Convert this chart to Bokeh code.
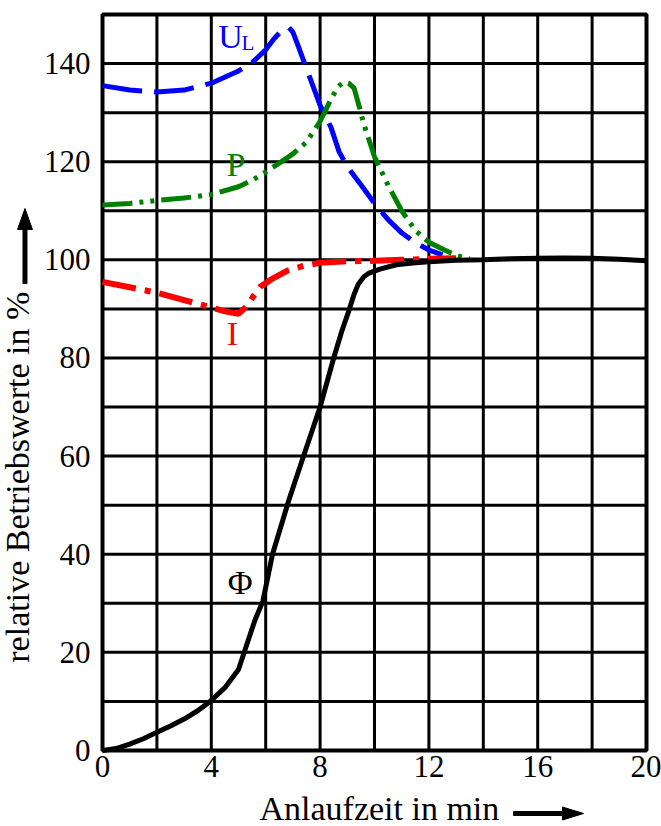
import math
from bokeh.plotting import figure
from bokeh.models import Range1d, FixedTicker
from bokeh.core.properties import value
from bokeh.embed import file_html
from bokeh.resources import INLINE

# ---- data ----
x_ticks = [0, 4, 8, 12, 16, 20]
y_ticks = [0, 20, 40, 60, 80, 100, 120, 140]
grid_x = [2, 4, 6, 8, 10, 12, 14, 16, 18]
grid_y = [10, 20, 30, 40, 50, 60, 70, 80, 90, 100, 110, 120, 130, 140]

ul_x = [0, 1, 2, 3, 4, 5, 5.5, 6, 6.3, 6.6, 6.85, 7.0, 7.2, 7.5, 7.8, 8.0, 8.4, 8.7, 9.0, 9.5, 10.0, 10.5, 11.0, 11.5, 12.0, 12.5]
ul_y = [135.5, 134.6, 134.2, 134.6, 136.0, 138.5, 140.2, 142.8, 145.0, 146.8, 147.4, 146.4, 143.5, 139.0, 134.5, 131.5, 127.0, 122.0, 119.0, 115.3, 111.5, 108.2, 105.5, 103.5, 102.0, 101.0]

p_x = [0, 1, 2, 3, 4, 5, 5.5, 6, 6.5, 7, 7.5, 7.8, 8.0, 8.4, 8.65, 8.85, 9.05, 9.25, 9.45, 9.6, 10.0, 10.5, 11.0, 11.5, 12.0, 12.5, 13.0, 13.5]
p_y = [111.2, 111.5, 112.1, 112.6, 113.3, 114.9, 116.2, 117.9, 119.7, 121.6, 124.0, 126.5, 128.2, 132.7, 135.2, 136.2, 136.0, 135.0, 131.0, 127.8, 121.0, 115.2, 110.0, 106.0, 103.6, 102.2, 100.9, 100.2]

i_x = [0, 1, 2, 3, 4, 4.5, 5.0, 5.3, 5.55, 5.8, 6.2, 6.8, 7.4, 8.0, 9, 10, 11, 12, 13]
i_y = [95.5, 94.4, 93.3, 91.8, 90.3, 89.5, 89.0, 90.5, 92.6, 94.5, 96.0, 97.8, 98.8, 99.4, 99.7, 99.8, 100.0, 100.2, 100.3]

phi_x = [0, 0.5, 1, 1.5, 2, 2.5, 3, 3.5, 4, 4.5, 5.0, 5.3, 5.6, 5.9, 6.25, 6.85, 7.3, 8.0, 8.5, 8.8, 9.05, 9.25, 9.4, 9.6, 9.8, 10.2, 10.8, 11.5, 12, 13, 14, 15, 16, 17, 18, 19, 20]
phi_y = [0, 0.4, 1.3, 2.4, 3.7, 5.0, 6.4, 8.1, 10.2, 12.8, 16.5, 21.5, 26.5, 30.5, 40, 51, 58.5, 70, 80, 85.5, 89.5, 93, 95, 96.5, 97.3, 98.1, 99.0, 99.4, 99.6, 99.9, 100.0, 100.2, 100.3, 100.35, 100.3, 100.1, 99.8]

SERIF = "Liberation Serif"

# ---- layout: the chart box (0..20 x 0..150) sits inside the canvas at these pixels ----
W, H = 661, 826
BOX_L, BOX_R, BOX_T, BOX_B = 102, 646, 14, 750
SX = (BOX_R - BOX_L) / 20.0          # px per x unit
SY = (BOX_B - BOX_T) / 150.0         # px per y unit
DX, DY = 1 / SX, 1 / SY              # data units per px

p = figure(width=W, height=H, output_backend="svg", toolbar_location=None,
           x_range=Range1d(-BOX_L * DX, 20 + (W - BOX_R) * DX),
           y_range=Range1d(-(H - BOX_B) * DY, 150 + BOX_T * DY),
           min_border_left=0, min_border_right=0, min_border_top=0, min_border_bottom=0)
p.background_fill_color = "white"
p.border_fill_color = "white"
p.outline_line_color = None
p.xgrid.visible = False
p.ygrid.visible = False

# axes fixed at the chart box edges
p.xaxis.fixed_location = 0
p.yaxis.fixed_location = 0
p.xaxis.ticker = FixedTicker(ticks=x_ticks)
p.yaxis.ticker = FixedTicker(ticks=y_ticks)
for ax in (p.xaxis, p.yaxis):
    ax.axis_line_color = None
    ax.major_tick_line_color = None
    ax.minor_tick_line_color = None
    ax.major_tick_in = 0
    ax.major_tick_out = 0
    ax.minor_tick_in = 0
    ax.minor_tick_out = 0
    ax.major_label_text_font = SERIF
    ax.major_label_text_font_size = "31px"
    ax.major_label_text_color = "black"
p.xaxis.major_label_standoff = 5
p.yaxis.major_label_standoff = 12

# grid and box
p.segment(x0=grid_x, y0=[0] * len(grid_x), x1=grid_x, y1=[150] * len(grid_x),
          line_color="black", line_width=3)
p.segment(x0=[0] * len(grid_y), y0=grid_y, x1=[20] * len(grid_y), y1=grid_y,
          line_color="black", line_width=3)
p.quad(left=[0], right=[20], bottom=[0], top=[150], fill_color=None,
       line_color="black", line_width=4)

# curves
p.line(ul_x, ul_y, line_color="#0000ff", line_width=5, line_dash="40 12")
p.line(p_x, p_y, line_color="#008000", line_width=5, line_dash="30 7 4 7 4 7")
p.line(i_x, i_y, line_color="#ff0000", line_width=6, line_dash="34 9 6 9")
p.line(phi_x, phi_y, line_color="black", line_width=5)

BASE_SHIFT = 10.5 * DY   # compensation for the baseline placement of the renderer

def lab(x, y, t, color, size="34px"):
    p.text(x=[x], y=[y + BASE_SHIFT], text=[t], text_font=value(SERIF),
           text_font_size=value(size), text_color=color, text_align="center",
           text_baseline="alphabetic")

# curve labels
lab(4.71, 143.3, "U", "#0000ff")
lab(5.35, 142.0, "L", "#0000ff", size="21px")
lab(4.91, 117.2, "P", "#008000")
lab(4.78, 82.8, "I", "#ff0000")
lab(5.06, 32.0, "\u03a6", "black")

# axis titles
lab(10.18, -13.86, "Anlaufzeit in min", "black")
p.text(x=[-3.12], y=[55.7], text=["relative Betriebswerte in %"], text_font=value(SERIF),
       text_font_size=value("34px"), text_color="black", text_align="center",
       text_baseline="middle", angle=math.pi / 2)

# arrows (shaft + filled head) as patches
def arrow(x0, y0, length_px, horizontal, head_hw):
    shaft_hw, head_len = 2.0, 21.0
    a, b = length_px - head_len, length_px
    along = [0, a, a, b, a, a, 0]
    across = [-shaft_hw, -shaft_hw, -head_hw, 0, head_hw, shaft_hw, shaft_hw]
    if horizontal:
        xs = [x0 + u * DX for u in along]
        ys = [y0 + v * DY for v in across]
    else:
        xs = [x0 + v * DX for v in across]
        ys = [y0 + u * DY for u in along]
    p.patch(xs, ys, fill_color="black", line_color="black", line_width=1)

arrow(15.11, -12.84, 70, True, 6.5)
arrow(-2.85, 95.17, 75, False, 7.5)

open("out.html", "w").write(file_html(p, INLINE))
